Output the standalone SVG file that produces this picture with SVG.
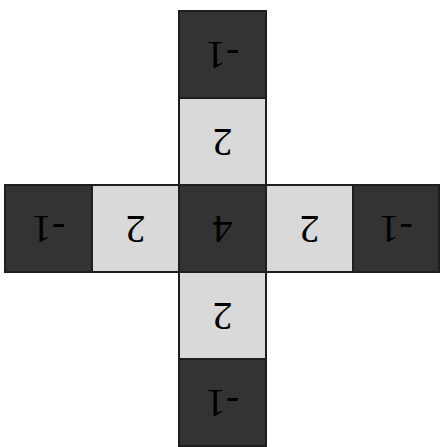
<svg xmlns="http://www.w3.org/2000/svg" width="441" height="447" viewBox="0 0 441 447">
<style>
.cell{stroke:#1e1e1e;stroke-width:2}
.dark{fill:#333333}
.light{fill:#d9d9d9}
.t{font-family:"Liberation Serif","Times New Roman",serif;font-size:40px;fill:#000;text-anchor:middle}
</style>
<rect width="441" height="447" fill="#ffffff"/>
<g id="top2"><rect class="cell dark" x="179" y="11" width="87" height="87"/><text class="t" x="222.5" y="67.5" transform="rotate(180 222.5 54.5)">-1</text></g>
<g id="top1"><rect class="cell light" x="179" y="98" width="87" height="87"/><text class="t" x="222.5" y="154.5" transform="rotate(180 222.5 141.5)">2</text></g>
<g id="left2"><rect class="cell dark" x="5" y="185" width="87" height="87"/><text class="t" x="48.5" y="241.5" transform="rotate(180 48.5 228.5)">-1</text></g>
<g id="left1"><rect class="cell light" x="92" y="185" width="87" height="87"/><text class="t" x="135.5" y="241.5" transform="rotate(180 135.5 228.5)">2</text></g>
<g id="center"><rect class="cell dark" x="179" y="185" width="87" height="87"/><text class="t" x="222.5" y="241.5" transform="rotate(180 222.5 228.5)">4</text></g>
<g id="right1"><rect class="cell light" x="266" y="185" width="87" height="87"/><text class="t" x="309.5" y="241.5" transform="rotate(180 309.5 228.5)">2</text></g>
<g id="right2"><rect class="cell dark" x="353" y="185" width="86" height="87"/><text class="t" x="396" y="241.5" transform="rotate(180 396 228.5)">-1</text></g>
<g id="bottom1"><rect class="cell light" x="179" y="272" width="87" height="87"/><text class="t" x="222.5" y="328.5" transform="rotate(180 222.5 315.5)">2</text></g>
<g id="bottom2"><rect class="cell dark" x="179" y="359" width="87" height="87"/><text class="t" x="222.5" y="415.5" transform="rotate(180 222.5 402.5)">-1</text></g>
<g id="connectors"></g>
</svg>
